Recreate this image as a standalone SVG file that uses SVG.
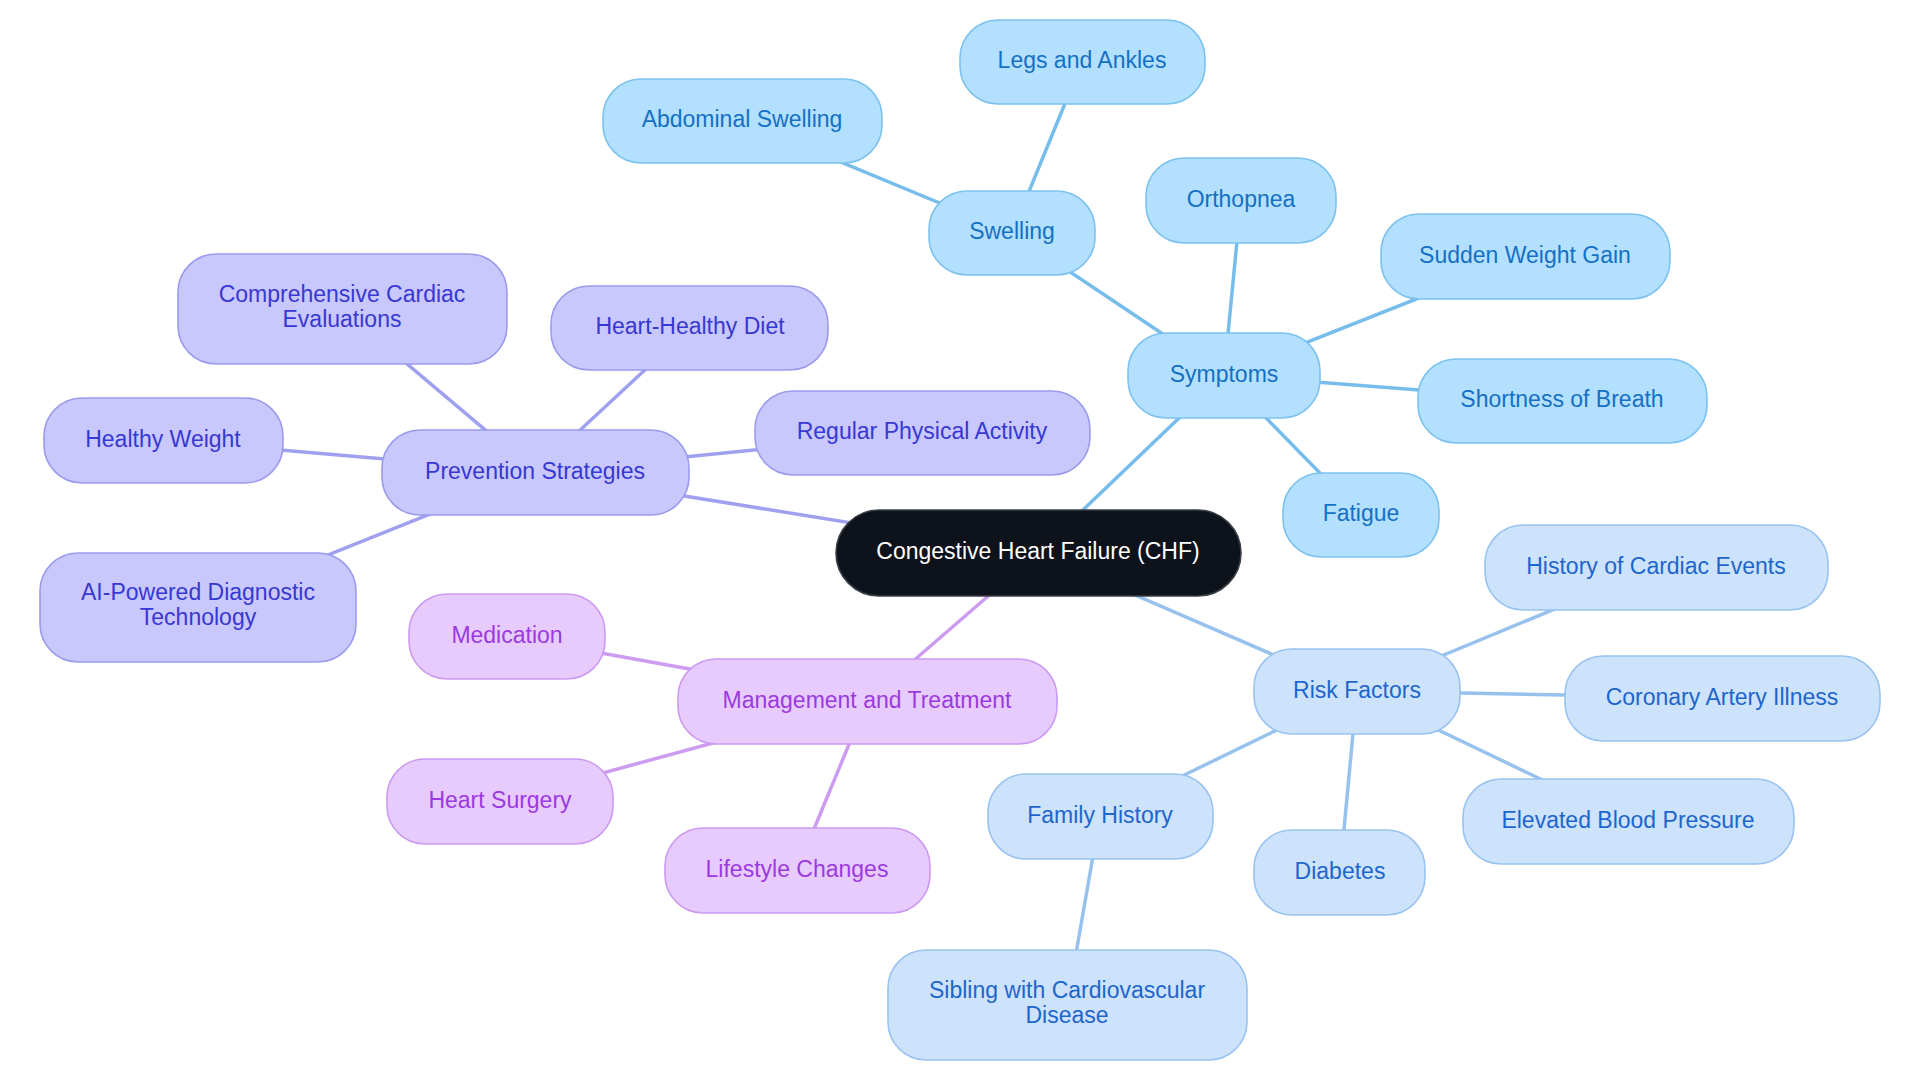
<svg xmlns="http://www.w3.org/2000/svg" width="1920" height="1083" viewBox="0 0 1920 1083">
<style>
text{font-family:"Liberation Sans",Arial,sans-serif;font-size:23px;text-anchor:middle}
rect{stroke-width:1.6}
.c line{stroke-width:3.5;stroke-linecap:round}
.sy rect{fill:#b3e0fe;stroke:#7cc2f0}.sy text{fill:#1570c4}
.rf rect{fill:#cde2fb;stroke:#99c3f0}.rf text{fill:#1e66cc}
.pv rect{fill:#c8c8fc;stroke:#9b9bee}.pv text{fill:#3838d2}
.mg rect{fill:#e8cbfd;stroke:#cc9af2}.mg text{fill:#9a3ae0}
.l-sy{stroke:#77bdec}.l-rf{stroke:#98c2ee}.l-pv{stroke:#a0a0f0}.l-mg{stroke:#cd9cf0}
</style>
<rect width="1920" height="1083" fill="#ffffff" style="stroke:none"/>
<g id="connectors" class="c">
<line class="l-sy" x1="1038" y1="553" x2="1224" y2="375"/>
<line class="l-sy" x1="1224" y1="375" x2="1012" y2="233"/>
<line class="l-sy" x1="1224" y1="375" x2="1241" y2="200"/>
<line class="l-sy" x1="1224" y1="375" x2="1525" y2="256"/>
<line class="l-sy" x1="1224" y1="375" x2="1562" y2="401"/>
<line class="l-sy" x1="1224" y1="375" x2="1361" y2="515"/>
<line class="l-sy" x1="1012" y1="233" x2="742" y2="121"/>
<line class="l-sy" x1="1012" y1="233" x2="1082" y2="62"/>
<line class="l-rf" x1="1038" y1="553" x2="1357" y2="691"/>
<line class="l-rf" x1="1357" y1="691" x2="1656" y2="567"/>
<line class="l-rf" x1="1357" y1="691" x2="1722" y2="698"/>
<line class="l-rf" x1="1357" y1="691" x2="1628" y2="821"/>
<line class="l-rf" x1="1357" y1="691" x2="1340" y2="872"/>
<line class="l-rf" x1="1357" y1="691" x2="1100" y2="816"/>
<line class="l-rf" x1="1100" y1="816" x2="1067" y2="1005"/>
<line class="l-pv" x1="1038" y1="553" x2="535" y2="472"/>
<line class="l-pv" x1="535" y1="472" x2="342" y2="309"/>
<line class="l-pv" x1="535" y1="472" x2="690" y2="328"/>
<line class="l-pv" x1="535" y1="472" x2="922" y2="433"/>
<line class="l-pv" x1="535" y1="472" x2="163" y2="440"/>
<line class="l-pv" x1="535" y1="472" x2="198" y2="607"/>
<line class="l-mg" x1="1038" y1="553" x2="867" y2="701"/>
<line class="l-mg" x1="867" y1="701" x2="507" y2="636"/>
<line class="l-mg" x1="867" y1="701" x2="500" y2="801"/>
<line class="l-mg" x1="867" y1="701" x2="797" y2="870"/>
</g>
<g id="root"><rect x="836" y="510" width="405" height="86" rx="43" fill="#0d121b" stroke="#3a3f47"/><text x="1038" y="559" fill="#ffffff">Congestive Heart Failure (CHF)</text></g>
<g class="sy">
<g id="symptoms"><rect x="1128" y="333" width="192" height="85" rx="38"/><text x="1224" y="382">Symptoms</text></g>
<g id="swelling"><rect x="929" y="191" width="166" height="84" rx="38"/><text x="1012" y="239">Swelling</text></g>
<g id="legs-ankles"><rect x="960" y="20" width="245" height="84" rx="38"/><text x="1082" y="68">Legs and Ankles</text></g>
<g id="abdominal-swelling"><rect x="603" y="79" width="279" height="84" rx="38"/><text x="742" y="127">Abdominal Swelling</text></g>
<g id="orthopnea"><rect x="1146" y="158" width="190" height="85" rx="38"/><text x="1241" y="207">Orthopnea</text></g>
<g id="sudden-weight-gain"><rect x="1381" y="214" width="289" height="85" rx="38"/><text x="1525" y="263">Sudden Weight Gain</text></g>
<g id="shortness-of-breath"><rect x="1418" y="359" width="289" height="84" rx="38"/><text x="1562" y="407">Shortness of Breath</text></g>
<g id="fatigue"><rect x="1283" y="473" width="156" height="84" rx="38"/><text x="1361" y="521">Fatigue</text></g>
</g>
<g class="rf">
<g id="risk-factors"><rect x="1254" y="649" width="206" height="85" rx="38"/><text x="1357" y="698">Risk Factors</text></g>
<g id="history-cardiac"><rect x="1485" y="525" width="343" height="85" rx="38"/><text x="1656" y="574">History of Cardiac Events</text></g>
<g id="coronary"><rect x="1565" y="656" width="315" height="85" rx="38"/><text x="1722" y="705">Coronary Artery Illness</text></g>
<g id="blood-pressure"><rect x="1463" y="779" width="331" height="85" rx="38"/><text x="1628" y="828">Elevated Blood Pressure</text></g>
<g id="diabetes"><rect x="1254" y="830" width="171" height="85" rx="38"/><text x="1340" y="879">Diabetes</text></g>
<g id="family-history"><rect x="988" y="774" width="225" height="85" rx="38"/><text x="1100" y="823">Family History</text></g>
<g id="sibling"><rect x="888" y="950" width="359" height="110" rx="38"/><text x="1067" y="998">Sibling with Cardiovascular</text><text x="1067" y="1023">Disease</text></g>
</g>
<g class="pv">
<g id="prevention"><rect x="382" y="430" width="307" height="85" rx="38"/><text x="535" y="479">Prevention Strategies</text></g>
<g id="cardiac-evaluations"><rect x="178" y="254" width="329" height="110" rx="38"/><text x="342" y="302">Comprehensive Cardiac</text><text x="342" y="327">Evaluations</text></g>
<g id="heart-healthy-diet"><rect x="551" y="286" width="277" height="84" rx="38"/><text x="690" y="334">Heart-Healthy Diet</text></g>
<g id="healthy-weight"><rect x="44" y="398" width="239" height="85" rx="38"/><text x="163" y="447">Healthy Weight</text></g>
<g id="physical-activity"><rect x="755" y="391" width="335" height="84" rx="38"/><text x="922" y="439">Regular Physical Activity</text></g>
<g id="ai-diagnostic"><rect x="40" y="553" width="316" height="109" rx="38"/><text x="198" y="600">AI-Powered Diagnostic</text><text x="198" y="625">Technology</text></g>
</g>
<g class="mg">
<g id="management"><rect x="678" y="659" width="379" height="85" rx="38"/><text x="867" y="708">Management and Treatment</text></g>
<g id="medication"><rect x="409" y="594" width="196" height="85" rx="38"/><text x="507" y="643">Medication</text></g>
<g id="heart-surgery"><rect x="387" y="759" width="226" height="85" rx="38"/><text x="500" y="808">Heart Surgery</text></g>
<g id="lifestyle"><rect x="665" y="828" width="265" height="85" rx="38"/><text x="797" y="877">Lifestyle Changes</text></g>
</g>
</svg>
